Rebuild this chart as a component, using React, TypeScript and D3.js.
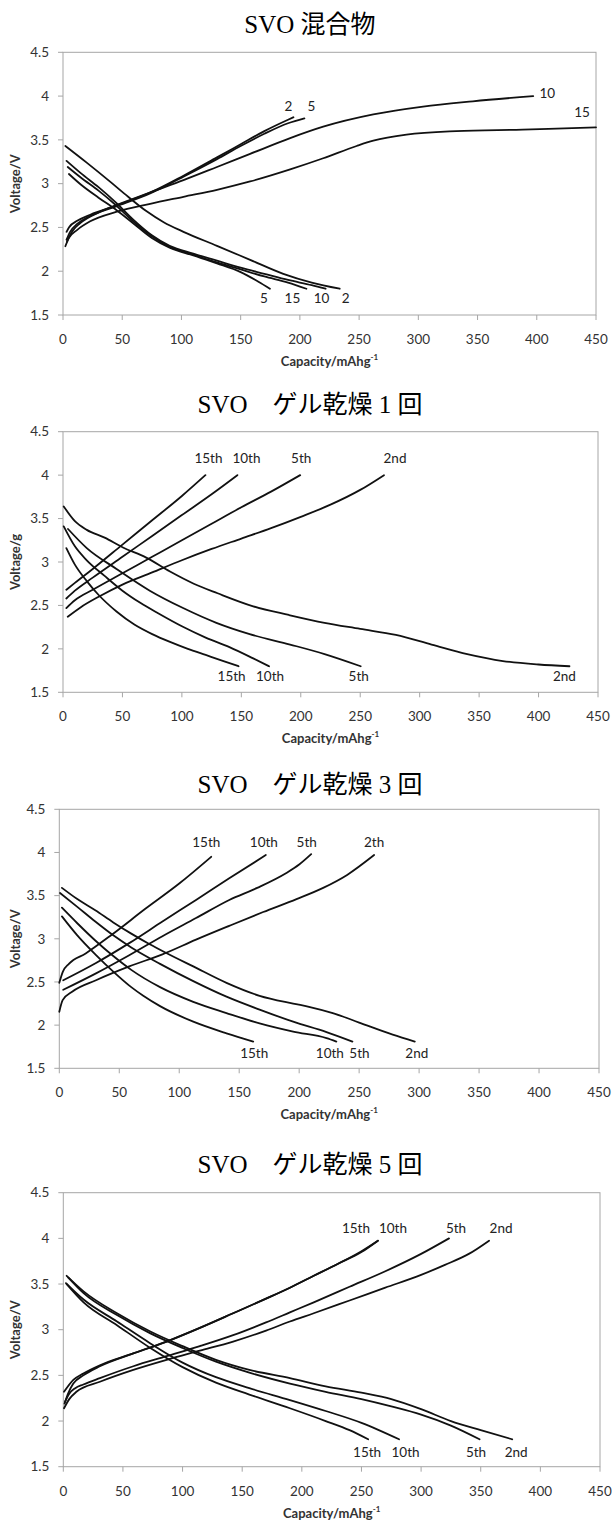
import React from "react";
import * as d3 from "d3";

type Pt = [number, number];

const X_TICKS = [0, 50, 100, 150, 200, 250, 300, 350, 400, 450];
const Y_TICKS = [1.5, 2, 2.5, 3, 3.5, 4, 4.5];

// ---- SVO 混合物 (capacity mAh/g, voltage V) ----
const P1_CHARGE_2: Pt[] = [[3, 2.45], [5, 2.5], [12, 2.575], [23, 2.645], [45, 2.75], [74, 2.9], [101.7, 3.09], [130, 3.3], [150, 3.45], [170, 3.6], [190, 3.73], [194.6, 3.758]];
const P1_CHARGE_5: Pt[] = [[3, 2.36], [6, 2.45], [12, 2.54], [23, 2.63], [45, 2.74], [74, 2.89], [101.7, 3.08], [130, 3.28], [150, 3.43], [170, 3.57], [190, 3.69], [203.8, 3.746]];
const P1_CHARGE_10: Pt[] = [[3.4, 2.34], [8, 2.46], [14.6, 2.55], [31.5, 2.68], [54, 2.8], [73.6, 2.9], [101.7, 3.04], [130, 3.19], [158, 3.34], [191.8, 3.52], [219.7, 3.65], [262, 3.79], [304, 3.88], [346, 3.94], [397, 4.0]];
const P1_CHARGE_15: Pt[] = [[2, 2.285], [5, 2.38], [11.8, 2.47], [23, 2.57], [45.5, 2.68], [73.6, 2.77], [101.7, 2.85], [130, 2.93], [158, 3.025], [191.8, 3.163], [219.7, 3.29], [247.9, 3.43], [262, 3.49], [290, 3.56], [332, 3.6], [388, 3.617], [410, 3.625], [450, 3.643]];
const P1_DIS_2: Pt[] = [[2, 3.43], [20, 3.24], [40, 3.02], [55, 2.85], [70, 2.69], [85, 2.56], [101.7, 2.45], [130, 2.29], [158, 2.13], [186, 1.97], [210, 1.87], [233.6, 1.8]];
const P1_DIS_10: Pt[] = [[3, 3.26], [15, 3.12], [30, 2.96], [45, 2.78], [60, 2.58], [75, 2.41], [90, 2.29], [110, 2.2], [130, 2.12], [150, 2.04], [170, 1.97], [190, 1.9], [210, 1.84], [221.7, 1.8]];
const P1_DIS_15: Pt[] = [[4, 3.19], [15, 3.07], [30, 2.92], [45, 2.75], [60, 2.56], [75, 2.4], [90, 2.28], [110, 2.19], [130, 2.1], [150, 2.02], [170, 1.94], [190, 1.87], [205.5, 1.8]];
const P1_DIS_5: Pt[] = [[5, 3.11], [15, 2.99], [30, 2.84], [45, 2.7], [60, 2.54], [75, 2.38], [90, 2.27], [110, 2.18], [130, 2.09], [150, 1.99], [165, 1.88], [174.7, 1.8]];

// ---- SVO ゲル乾燥 1 回 ----
const P2_CHARGE_15: Pt[] = [[2.8, 2.68], [10, 2.76], [25, 2.92], [50, 3.2], [75, 3.48], [100, 3.76], [119.8, 4.0]];
const P2_CHARGE_10: Pt[] = [[2.8, 2.58], [10, 2.67], [25, 2.82], [50, 3.06], [75, 3.3], [100, 3.54], [125, 3.78], [146.7, 4.0]];
const P2_CHARGE_5: Pt[] = [[2.8, 2.47], [10, 2.56], [25, 2.68], [50, 2.87], [75, 3.06], [100, 3.25], [125, 3.44], [150, 3.63], [175, 3.81], [199.5, 4.0]];
const P2_CHARGE_2: Pt[] = [[4, 2.37], [15, 2.48], [30, 2.6], [50, 2.74], [75, 2.88], [100, 3.02], [125, 3.15], [150, 3.27], [175, 3.39], [200, 3.52], [225, 3.66], [250, 3.83], [270, 4.0]];
const P2_DIS_2: Pt[] = [[0.6, 3.64], [10, 3.47], [20, 3.37], [35, 3.28], [50, 3.17], [70, 3.05], [90, 2.89], [110, 2.75], [130, 2.64], [160, 2.49], [190, 2.39], [220, 2.3], [250, 2.23], [280, 2.16], [310, 2.05], [340, 1.94], [370, 1.86], [400, 1.82], [426, 1.8]];
const P2_DIS_5: Pt[] = [[4.2, 3.38], [20, 3.16], [45, 2.92], [73, 2.67], [101, 2.47], [129, 2.3], [157, 2.17], [191, 2.05], [220, 1.94], [250.4, 1.8]];
const P2_DIS_10: Pt[] = [[0.6, 3.41], [10, 3.18], [20, 3.02], [35, 2.84], [50, 2.67], [65, 2.53], [80, 2.41], [100, 2.26], [120, 2.13], [140, 2.02], [160, 1.89], [173.3, 1.8]];
const P2_DIS_15: Pt[] = [[2.8, 3.16], [10, 2.97], [20, 2.78], [30, 2.62], [45, 2.43], [60, 2.28], [75, 2.17], [90, 2.08], [105, 2.0], [120, 1.93], [135, 1.86], [147.7, 1.8]];

// ---- SVO ゲル乾燥 3 回 ----
const P3_CHARGE_15: Pt[] = [[0, 2.49], [3, 2.62], [8, 2.71], [22, 2.83], [44, 3.05], [72, 3.35], [100, 3.64], [126.7, 3.95]];
const P3_CHARGE_10: Pt[] = [[3.3, 2.52], [30.6, 2.72], [58.3, 2.95], [86, 3.2], [114, 3.45], [141.7, 3.7], [172.2, 3.97]];
const P3_CHARGE_5: Pt[] = [[3.3, 2.41], [30.6, 2.6], [58.3, 2.81], [86, 3.03], [114, 3.24], [141.7, 3.45], [165, 3.59], [189, 3.76], [200, 3.86], [210, 3.98]];
const P3_CHARGE_2: Pt[] = [[0, 2.155], [2.8, 2.29], [11, 2.39], [30.6, 2.52], [58.3, 2.68], [86, 2.82], [114, 2.99], [141.7, 3.15], [170, 3.31], [197.8, 3.46], [220, 3.59], [240, 3.74], [262.5, 3.97]];
const P3_DIS_2: Pt[] = [[2.2, 3.59], [15, 3.46], [30, 3.33], [45, 3.19], [60, 3.06], [75, 2.94], [90, 2.83], [111.7, 2.68], [139.4, 2.49], [167, 2.34], [195, 2.25], [209, 2.21], [228, 2.14], [250, 2.03], [278, 1.89], [296.4, 1.81]];
const P3_DIS_5: Pt[] = [[0.6, 3.53], [15, 3.37], [30, 3.2], [45, 3.04], [60, 2.9], [84, 2.71], [111.7, 2.51], [139.4, 2.33], [167, 2.18], [195, 2.04], [222.8, 1.92], [244.4, 1.81]];
const P3_DIS_10: Pt[] = [[2.2, 3.36], [15, 3.18], [30, 2.98], [45, 2.8], [60, 2.64], [84, 2.44], [111.7, 2.27], [139.4, 2.14], [167, 2.02], [195, 1.925], [222.8, 1.85], [231, 1.81]];
const P3_DIS_15: Pt[] = [[2.2, 3.26], [15, 3.04], [30, 2.82], [45, 2.62], [60, 2.44], [70, 2.34], [84, 2.22], [111.7, 2.04], [139.4, 1.905], [161.7, 1.81]];

// ---- SVO ゲル乾燥 5 回 ----
const P4_CHARGE_15: Pt[] = [[0.6, 2.32], [8.4, 2.45], [16.8, 2.52], [30.7, 2.61], [58.7, 2.74], [86.6, 2.87], [114.5, 3.02], [142.4, 3.18], [170, 3.34], [190, 3.46], [210, 3.59], [230, 3.72], [250, 3.86], [263.8, 3.975]];
const P4_CHARGE_10: Pt[] = [[1, 2.19], [4, 2.3], [8.4, 2.41], [16.8, 2.5], [30.7, 2.6], [58.7, 2.74], [86.6, 2.87], [114.5, 3.02], [142.4, 3.18], [170, 3.34], [190, 3.46], [210, 3.59], [230, 3.72], [250, 3.85], [263.8, 3.975]];
const P4_CHARGE_5: Pt[] = [[1.4, 2.21], [5, 2.3], [10, 2.36], [16.8, 2.4], [30.7, 2.47], [58.7, 2.6], [86.6, 2.71], [114.5, 2.82], [142.4, 2.94], [170, 3.08], [190, 3.19], [210, 3.3], [240, 3.47], [270, 3.64], [300, 3.83], [323.4, 4.0]];
const P4_CHARGE_2: Pt[] = [[0.6, 2.14], [5, 2.24], [11, 2.32], [30.7, 2.43], [58.7, 2.56], [86.6, 2.67], [114.5, 2.77], [142.4, 2.87], [170, 2.99], [190, 3.09], [210, 3.18], [240, 3.32], [270, 3.46], [300, 3.6], [320, 3.71], [340, 3.83], [357, 3.975]];
const P4_DIS_2: Pt[] = [[2.8, 3.59], [17, 3.42], [45, 3.18], [73, 2.98], [100, 2.82], [128, 2.67], [156, 2.56], [190, 2.47], [220, 2.38], [250, 2.31], [275, 2.24], [300, 2.13], [325, 2.0], [350, 1.9], [376.4, 1.8]];
const P4_DIS_5: Pt[] = [[4.2, 3.57], [17, 3.4], [45, 3.16], [73, 2.96], [100, 2.8], [128, 2.65], [156, 2.53], [190, 2.41], [220, 2.32], [250, 2.24], [275, 2.16], [300, 2.07], [325, 1.95], [349, 1.8]];
const P4_DIS_10: Pt[] = [[2.2, 3.51], [17, 3.33], [45, 3.09], [73, 2.85], [100, 2.64], [128, 2.48], [156, 2.36], [190, 2.23], [220, 2.11], [250, 1.98], [281.5, 1.8]];
const P4_DIS_15: Pt[] = [[2.8, 3.5], [17, 3.3], [45, 3.05], [73, 2.8], [100, 2.59], [128, 2.42], [156, 2.29], [190, 2.14], [220, 2.0], [240, 1.9], [255.6, 1.8]];

// label offsets are pixels from the curve's last point
type Series = { data: Pt[]; label: string; dx: number; dy: number };
type PanelDef = {
  title: string;
  yTitle: string;
  titleY: number;
  left: number;
  right: number;
  top: number;
  bottom: number;
  series: Series[];
};

const PANELS: PanelDef[] = [
  {
    title: "SVO 混合物", yTitle: "Voltage/V", titleY: 33,
    left: 63, right: 596, top: 52.3, bottom: 315,
    series: [
      { data: P1_CHARGE_2, label: "2", dx: -5, dy: -11 },
      { data: P1_CHARGE_5, label: "5", dx: 7, dy: -12 },
      { data: P1_CHARGE_10, label: "10", dx: 14, dy: -3 },
      { data: P1_CHARGE_15, label: "15", dx: -14, dy: -15 },
      { data: P1_DIS_5, label: "5", dx: -6, dy: 10 },
      { data: P1_DIS_15, label: "15", dx: -14, dy: 10 },
      { data: P1_DIS_10, label: "10", dx: -4, dy: 10 },
      { data: P1_DIS_2, label: "2", dx: 6, dy: 10 },
    ],
  },
  {
    title: "SVO\u3000ゲル乾燥 1 回", yTitle: "Voltage/g", titleY: 413,
    left: 63, right: 598, top: 431.7, bottom: 692.3,
    series: [
      { data: P2_CHARGE_15, label: "15th", dx: 3, dy: -17 },
      { data: P2_CHARGE_10, label: "10th", dx: 9, dy: -17 },
      { data: P2_CHARGE_5, label: "5th", dx: 1, dy: -17 },
      { data: P2_CHARGE_2, label: "2nd", dx: 11, dy: -17 },
      { data: P2_DIS_15, label: "15th", dx: -7, dy: 10 },
      { data: P2_DIS_10, label: "10th", dx: 1, dy: 10 },
      { data: P2_DIS_5, label: "5th", dx: -2, dy: 10 },
      { data: P2_DIS_2, label: "2nd", dx: -5, dy: 10 },
    ],
  },
  {
    title: "SVO\u3000ゲル乾燥 3 回", yTitle: "Voltage/V", titleY: 793,
    left: 59.3, right: 599, top: 809.3, bottom: 1068.3,
    series: [
      { data: P3_CHARGE_15, label: "15th", dx: -5, dy: -14.5 },
      { data: P3_CHARGE_10, label: "10th", dx: -2, dy: -13 },
      { data: P3_CHARGE_5, label: "5th", dx: -4.5, dy: -12 },
      { data: P3_CHARGE_2, label: "2th", dx: 0, dy: -13 },
      { data: P3_DIS_15, label: "15th", dx: 1, dy: 12 },
      { data: P3_DIS_10, label: "10th", dx: -6.5, dy: 12 },
      { data: P3_DIS_5, label: "5th", dx: 7, dy: 12 },
      { data: P3_DIS_2, label: "2nd", dx: 2, dy: 12 },
    ],
  },
  {
    title: "SVO\u3000ゲル乾燥 5 回", yTitle: "Voltage/V", titleY: 1173,
    left: 63.3, right: 600, top: 1192.7, bottom: 1466.7,
    series: [
      { data: P4_CHARGE_15, label: "15th", dx: -22, dy: -12 },
      { data: P4_CHARGE_10, label: "10th", dx: 15, dy: -12 },
      { data: P4_CHARGE_5, label: "5th", dx: 7, dy: -10 },
      { data: P4_CHARGE_2, label: "2nd", dx: 12, dy: -12 },
      { data: P4_DIS_15, label: "15th", dx: -1, dy: 13 },
      { data: P4_DIS_10, label: "10th", dx: 6.5, dy: 13 },
      { data: P4_DIS_5, label: "5th", dx: -3.5, dy: 13 },
      { data: P4_DIS_2, label: "2nd", dx: 4, dy: 13 },
    ],
  },
];

const SANS = "Lato, 'Open Sans', 'DejaVu Sans', sans-serif";
const SERIF = "'Liberation Serif', 'Noto Sans CJK JP', serif";
const AXIS_COLOR = "#a6a6a6";

const Panel = ({ p }: { p: PanelDef }) => {
  const x = d3.scaleLinear().domain([0, 450]).range([p.left, p.right]);
  const y = d3.scaleLinear().domain([1.5, 4.5]).range([p.bottom, p.top]);
  const line = d3
    .line<Pt>()
    .x((d) => x(d[0]))
    .y((d) => y(d[1]))
    .curve(d3.curveMonotoneX);
  const midX = (p.left + p.right) / 2;
  const midY = (p.top + p.bottom) / 2;

  return (
    <g>
      <text x={310} y={p.titleY} textAnchor="middle" fontFamily={SERIF} fontSize={25} fill="#000">
        {p.title}
      </text>
      <rect x={p.left} y={p.top} width={p.right - p.left} height={p.bottom - p.top} fill="none" stroke={AXIS_COLOR} strokeWidth={1} />
      {Y_TICKS.map((t) => (
        <g key={"y" + t}>
          <line x1={p.left - 5} x2={p.left} y1={y(t)} y2={y(t)} stroke={AXIS_COLOR} />
          <text x={p.left - 14} y={y(t)} dy="0.35em" textAnchor="end" fontFamily={SANS} fontSize={13.5} fill="#333">
            {t}
          </text>
        </g>
      ))}
      {X_TICKS.map((t) => (
        <g key={"x" + t}>
          <line x1={x(t)} x2={x(t)} y1={p.bottom} y2={p.bottom + 5} stroke={AXIS_COLOR} />
          <text x={x(t)} y={p.bottom + 29} textAnchor="middle" fontFamily={SANS} fontSize={13.5} fill="#333">
            {t}
          </text>
        </g>
      ))}
      <text x={midX} y={p.bottom + 51} textAnchor="middle" fontFamily={SANS} fontSize={13} fontWeight="bold" fill="#333">
        Capacity/mAhg
        <tspan fontSize={8} dy={-6}>-1</tspan>
      </text>
      <text
        transform={`translate(15,${midY}) rotate(-90)`}
        textAnchor="middle"
        dy="0.35em"
        fontFamily={SANS}
        fontSize={13}
        fontWeight="bold"
        fill="#333"
      >
        {p.yTitle}
      </text>
      {p.series.map((s, i) => (
        <path key={"s" + i} d={line(s.data) || ""} fill="none" stroke="#111" strokeWidth={1.8} strokeLinecap="round" />
      ))}
      {p.series.map((s, i) => {
        const last = s.data[s.data.length - 1];
        return (
          <text
            key={"l" + i}
            x={x(last[0]) + s.dx}
            y={y(last[1]) + s.dy}
            dy="0.35em"
            textAnchor="middle"
            fontFamily={SANS}
            fontSize={13.5}
            fill="#222"
          >
            {s.label}
          </text>
        );
      })}
    </g>
  );
};

export default function App() {
  return (
    <svg
      width={612}
      height={1523}
      style={{ position: "absolute", left: 0, top: 0, background: "#fff" }}
    >
      {PANELS.map((p, i) => (
        <Panel key={i} p={p} />
      ))}
    </svg>
  );
}
